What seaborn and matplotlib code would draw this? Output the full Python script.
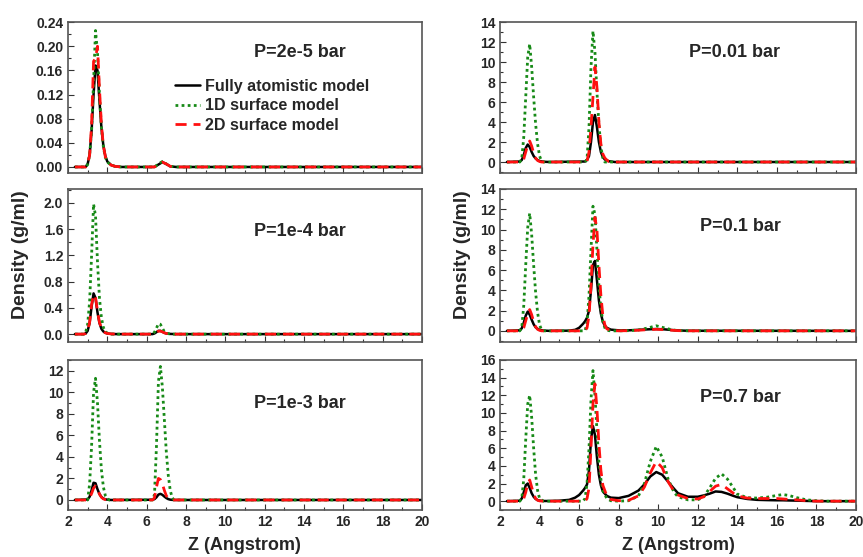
import matplotlib
matplotlib.use("Agg")
import matplotlib.pyplot as plt
import seaborn as sns
from matplotlib.ticker import MultipleLocator, FormatStrFormatter

# P = 2e-5 bar
z_a = [2.35, 2.9, 3.0, 3.1, 3.2, 3.3, 3.4, 3.5, 3.6, 3.7, 3.8, 3.9, 4.0, 4.2, 4.4, 4.7,
       6.4, 6.6, 6.8, 7.0, 7.2, 7.5, 20.0]
fa_a = [0, 0, 0.005, 0.02, 0.06, 0.12, 0.168, 0.16, 0.11, 0.065, 0.035, 0.018, 0.009, 0.003, 0.001, 0,
        0, 0.004, 0.008, 0.005, 0.001, 0, 0]
s1_a = [0, 0, 0.004, 0.02, 0.06, 0.14, 0.226, 0.19, 0.12, 0.065, 0.033, 0.016, 0.008, 0.003, 0.001, 0,
        0, 0.005, 0.009, 0.005, 0.001, 0, 0]
s2_a = [0, 0, 0.005, 0.02, 0.07, 0.175, 0.18, 0.2, 0.13, 0.07, 0.035, 0.017, 0.008, 0.003, 0.001, 0,
        0, 0.004, 0.008, 0.005, 0.001, 0, 0]

# P = 1e-4 bar
z_b = [2.35, 2.8, 2.9, 3.0, 3.1, 3.2, 3.3, 3.4, 3.5, 3.6, 3.7, 3.8, 3.9, 4.0, 4.2, 4.5,
       6.3, 6.4, 6.5, 6.6, 6.7, 6.8, 6.9, 7.0, 7.2, 7.5, 20.0]
fa_b = [0, 0, 0.01, 0.05, 0.17, 0.42, 0.62, 0.55, 0.33, 0.17, 0.08, 0.04, 0.02, 0.01, 0.003, 0,
        0, 0.01, 0.03, 0.05, 0.05, 0.035, 0.02, 0.01, 0.003, 0, 0]
s1_b = [0, 0, 0.03, 0.15, 0.5, 1.2, 1.98, 1.8, 1.1, 0.55, 0.25, 0.1, 0.04, 0.015, 0, 0,
        0, 0.03, 0.09, 0.16, 0.15, 0.09, 0.04, 0.015, 0, 0, 0]
s2_b = [0, 0, 0.01, 0.05, 0.18, 0.45, 0.6, 0.56, 0.35, 0.18, 0.09, 0.04, 0.02, 0.01, 0.003, 0,
        0, 0.01, 0.03, 0.045, 0.045, 0.035, 0.02, 0.01, 0.003, 0, 0]

# P = 1e-3 bar
z_c = [2.35, 3.0, 3.1, 3.2, 3.3, 3.4, 3.5, 3.6, 3.7, 3.8, 3.9, 4.0, 4.1, 4.2,
       6.3, 6.4, 6.5, 6.6, 6.7, 6.8, 6.9, 7.0, 7.1, 7.2, 7.3, 7.4, 20.0]
fa_c = [0, 0.05, 0.3, 0.9, 1.6, 1.55, 1.0, 0.55, 0.28, 0.13, 0.06, 0.03, 0.01, 0,
        0.02, 0.08, 0.25, 0.5, 0.57, 0.48, 0.32, 0.18, 0.08, 0.03, 0.01, 0, 0]
s1_c = [0, 0, 1.5, 5.0, 10.0, 11.3, 9.0, 5.5, 2.8, 1.2, 0.4, 0.1, 0, 0,
        0, 0.5, 5.0, 11.0, 12.4, 10.5, 7.5, 4.5, 2.3, 0.9, 0.2, 0, 0]
s2_c = [0, 0, 0.2, 0.6, 1.1, 1.3, 1.0, 0.55, 0.25, 0.1, 0.04, 0.01, 0, 0,
        0, 0.2, 1.2, 2.0, 1.9, 1.5, 0.9, 0.4, 0.15, 0.05, 0, 0, 0]

# P = 0.01 bar
z_d = [2.35, 3.0, 3.1, 3.2, 3.3, 3.4, 3.5, 3.6, 3.7, 3.8, 3.9, 4.0, 4.1, 4.2, 4.5,
       6.3, 6.4, 6.5, 6.6, 6.7, 6.8, 6.9, 7.0, 7.1, 7.2, 7.3, 7.4, 7.5, 7.8, 20.0]
fa_d = [0, 0.05, 0.2, 0.7, 1.4, 1.75, 1.5, 1.0, 0.6, 0.35, 0.2, 0.1, 0.06, 0.03, 0,
        0.05, 0.2, 0.6, 2.0, 4.0, 4.7, 3.5, 2.0, 1.0, 0.5, 0.25, 0.15, 0.08, 0, 0]
s1_d = [0, 0, 0.3, 2.5, 6.5, 10.5, 11.8, 9.5, 6.5, 3.8, 1.8, 0.6, 0.1, 0, 0,
        0, 0.3, 3.5, 9.5, 13.1, 11.0, 7.0, 3.8, 1.5, 0.4, 0, 0, 0, 0, 0]
s2_d = [0, 0, 0.05, 0.3, 1.0, 1.7, 2.1, 1.6, 0.9, 0.4, 0.15, 0.05, 0, 0, 0,
        0, 0.1, 1.0, 3.5, 6.5, 9.5, 7.5, 4.0, 1.8, 0.8, 0.4, 0.2, 0.05, 0, 0]

# P = 0.1 bar
z_e = [2.35, 3.0, 3.1, 3.2, 3.3, 3.4, 3.5, 3.6, 3.7, 3.8, 3.9, 4.0, 4.1, 4.2, 4.5,
       5.5, 5.8, 6.0, 6.2, 6.3, 6.4, 6.5, 6.6, 6.7, 6.8, 6.9, 7.0, 7.1, 7.2, 7.3, 7.4, 7.6,
       8.0, 8.5, 9.0, 9.5, 9.9, 10.3, 10.7, 11.0, 11.5, 20.0]
fa_e = [0, 0.05, 0.25, 0.8, 1.5, 1.9, 1.6, 1.1, 0.65, 0.35, 0.2, 0.1, 0.06, 0.03, 0,
        0.02, 0.1, 0.3, 0.7, 0.95, 1.3, 2.0, 4.0, 6.5, 6.9, 5.0, 3.0, 1.7, 0.9, 0.5, 0.3, 0.12,
        0.05, 0.05, 0.1, 0.15, 0.18, 0.15, 0.08, 0.04, 0.01, 0]
s1_e = [0, 0, 0.3, 2.5, 6.5, 10.2, 11.6, 9.5, 6.5, 3.8, 1.8, 0.6, 0.1, 0, 0,
        0, 0, 0, 0, 0, 0.8, 3.5, 8.0, 12.3, 11.5, 8.0, 4.5, 2.2, 0.9, 0.3, 0.05, 0,
        0, 0.02, 0.08, 0.3, 0.5, 0.3, 0.1, 0.03, 0, 0]
s2_e = [0, 0, 0.05, 0.3, 1.0, 1.7, 2.1, 1.6, 0.9, 0.4, 0.15, 0.05, 0, 0, 0,
        0, 0, 0, 0, 0, 0.3, 1.5, 4.5, 8.5, 11.2, 10.0, 6.5, 3.5, 1.5, 0.6, 0.2, 0.05,
        0, 0.02, 0.06, 0.12, 0.15, 0.12, 0.06, 0.02, 0, 0]

# P = 0.7 bar
z_f = [2.35, 3.0, 3.1, 3.2, 3.3, 3.4, 3.5, 3.6, 3.7, 3.8, 3.9, 4.0, 4.2, 4.5,
       5.0, 5.5, 5.8, 6.0, 6.2, 6.3, 6.4, 6.5, 6.6, 6.7, 6.8, 6.9, 7.0, 7.1, 7.2, 7.4, 7.6,
       8.0, 8.5, 9.0, 9.3, 9.6, 9.9, 10.2, 10.5, 10.8, 11.0, 11.5,
       12.0, 12.3, 12.6, 12.9, 13.2, 13.5, 13.8, 14.0, 14.5,
       15.0, 15.5, 16.0, 16.3, 16.6, 17.0, 17.5, 18.0, 18.5, 20.0]
fa_f = [0, 0.05, 0.3, 1.0, 1.8, 2.0, 1.5, 0.9, 0.5, 0.25, 0.12, 0.06, 0.02, 0.02,
        0.05, 0.15, 0.4, 0.7, 1.2, 1.5, 1.9, 3.5, 7.0, 8.5, 7.5, 5.0, 3.0, 1.8, 1.1, 0.6, 0.4,
        0.35, 0.6, 1.2, 1.9, 2.8, 3.3, 3.0, 2.2, 1.4, 0.9, 0.5,
        0.5, 0.65, 0.85, 1.1, 1.05, 0.85, 0.6, 0.45, 0.25,
        0.15, 0.12, 0.1, 0.1, 0.08, 0.06, 0.03, 0, 0, 0]
s1_f = [0, 0, 0.3, 2.5, 7.0, 11.0, 12.0, 9.5, 6.0, 3.0, 1.2, 0.3, 0, 0,
        0, 0, 0, 0, 0, 0.3, 2.0, 6.0, 11.5, 14.8, 12.0, 8.0, 4.5, 2.5, 1.2, 0.3, 0.05,
        0, 0.05, 0.6, 2.0, 4.5, 6.2, 5.0, 2.5, 1.0, 0.5, 0.15,
        0.15, 0.5, 1.5, 2.6, 3.1, 2.5, 1.5, 0.8, 0.4,
        0.35, 0.45, 0.65, 0.75, 0.65, 0.4, 0.15, 0.05, 0, 0]
s2_f = [0, 0, 0.05, 0.3, 1.0, 2.0, 2.4, 1.6, 0.8, 0.3, 0.1, 0.03, 0, 0,
        0, 0, 0, 0, 0, 0, 0.3, 1.5, 6.0, 11.0, 13.3, 10.5, 6.5, 3.5, 1.8, 0.6, 0.2,
        0.05, 0.1, 0.6, 1.6, 3.2, 4.5, 3.8, 2.2, 1.1, 0.7, 0.3,
        0.25, 0.5, 1.1, 1.7, 1.9, 1.4, 0.9, 0.6, 0.35,
        0.3, 0.3, 0.3, 0.25, 0.2, 0.15, 0.05, 0, 0, 0]

pressures = ["P=2e-5 bar", "P=1e-4 bar", "P=1e-3 bar", "P=0.01 bar", "P=0.1 bar", "P=0.7 bar"]
labels = ["Fully atomistic model", "1D surface model", "2D surface model"]

sns.set_style("ticks")
plt.rcParams['font.family'] = ['Liberation Sans', 'DejaVu Sans']
plt.rcParams['font.weight'] = 'bold'
plt.rcParams['axes.labelweight'] = 'bold'

fig = plt.figure(figsize=(8.63, 5.57), dpi=100)

lefts = [0.0788, 0.5794]
widths = [0.410, 0.4125]
rows = [(0.6894, 0.271), (0.386, 0.2747), (0.0844, 0.2693)]
ylab_x = [-0.11, -0.081]

panels = [
    (z_a, fa_a, s1_a, s2_a, (-0.01, 0.24), 0.04, "%.2f", (0.655, 0.80)),
    (z_b, fa_b, s1_b, s2_b, (-0.12, 2.21), 0.4, "%.1f", (0.655, 0.72)),
    (z_c, fa_c, s1_c, s2_c, (-0.93, 13.0), 2, "%d", (0.655, 0.713)),
    (z_d, fa_d, s1_d, s2_d, (-1.1, 14.0), 2, "%d", (0.66, 0.80)),
    (z_e, fa_e, s1_e, s2_e, (-1.1, 14.0), 2, "%d", (0.674, 0.758)),
    (z_f, fa_f, s1_f, s2_f, (-1.0, 16.0), 2, "%d", (0.674, 0.75)),
]

for i, (z, fa, s1, s2, ylim, ystep, fmt, txt) in enumerate(panels):
    col, row = divmod(i, 3)
    ax = fig.add_axes([lefts[col], rows[row][0], widths[col], rows[row][1]])
    sns.lineplot(x=z, y=fa, ax=ax, color="black", linewidth=1.8, label=labels[0])
    sns.lineplot(x=z, y=s1, ax=ax, color="#178a17", linewidth=2.0,
                 linestyle=(0, (1, 1.2)), label=labels[1])
    sns.lineplot(x=z, y=s2, ax=ax, color="#ff1010", linewidth=2.0,
                 linestyle=(0, (4, 2.5)), label=labels[2])
    ax.set_xlim(2, 20)
    ax.set_ylim(*ylim)
    ax.xaxis.set_major_locator(MultipleLocator(2))
    ax.xaxis.set_minor_locator(MultipleLocator(1))
    ax.yaxis.set_major_locator(MultipleLocator(ystep))
    ax.yaxis.set_minor_locator(MultipleLocator(ystep / 2))
    ax.yaxis.set_major_formatter(FormatStrFormatter(fmt))
    ax.tick_params(direction="in", which="both", labelsize=10, width=0.8, color="#333333")
    ax.tick_params(which="major", length=4)
    ax.tick_params(which="minor", length=2)
    for sp in ax.spines.values():
        sp.set_color("#555555")
        sp.set_linewidth(1.2)
    ax.text(txt[0], txt[1], pressures[i], transform=ax.transAxes, ha="center", va="center",
            fontsize=13, fontweight="bold")
    if row == 2:
        ax.set_xlabel("Z (Angstrom)", fontsize=13, fontweight="bold", labelpad=6)
    else:
        ax.set_xticklabels([])
        ax.set_xlabel("")
    if row == 1:
        ax.set_ylabel("Density (g/ml)", fontsize=14, fontweight="bold")
        ax.yaxis.set_label_coords(ylab_x[col], 0.57)
    else:
        ax.set_ylabel("")
    if i == 0:
        ax.legend(loc="upper left", bbox_to_anchor=(0.302, 0.625), frameon=False, fontsize=11.5,
                  handlelength=1.6, handletextpad=0.3, labelspacing=0.28,
                  borderpad=0, borderaxespad=0)
    else:
        ax.get_legend().remove()

fig.savefig("out.png", dpi=100)
